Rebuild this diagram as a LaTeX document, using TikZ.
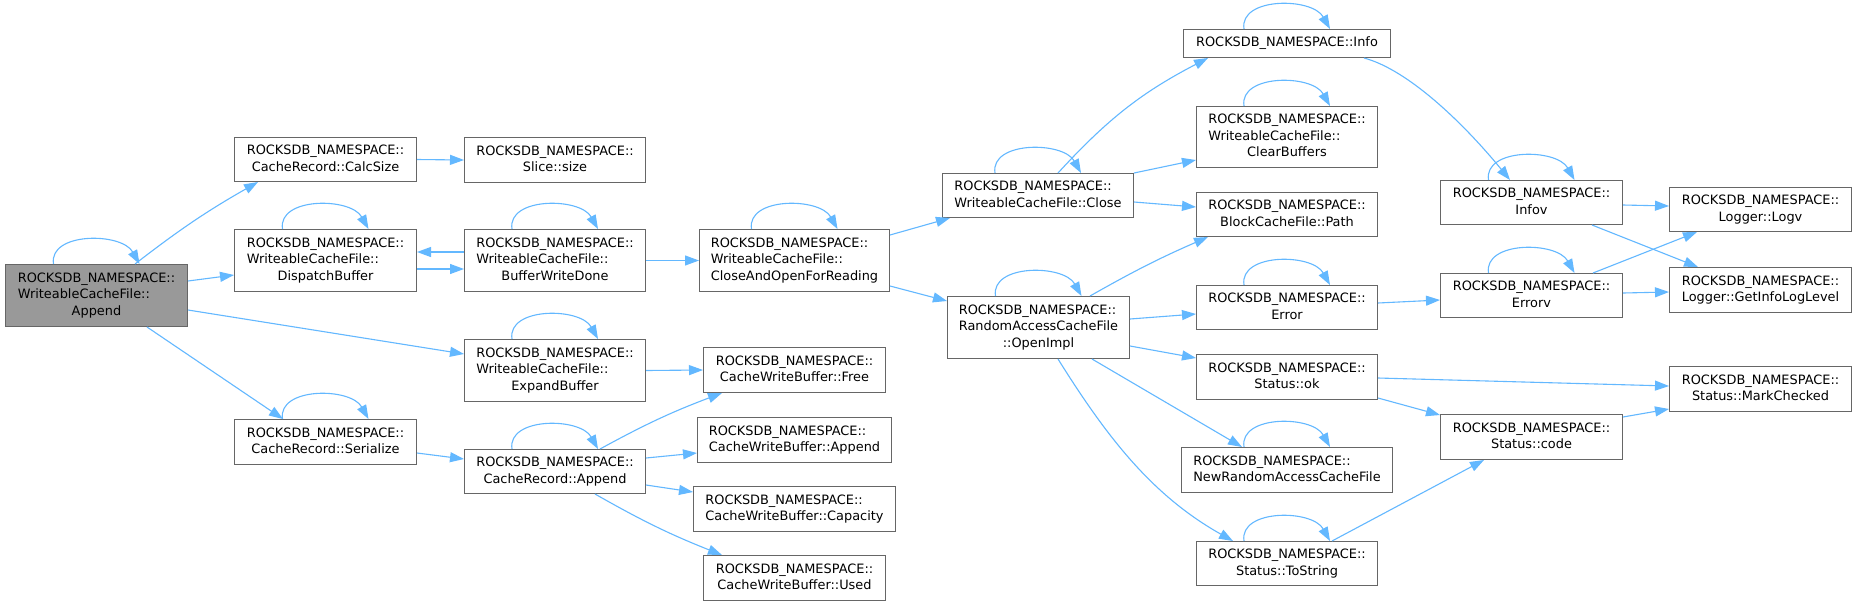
\documentclass[tikz,border=0pt]{standalone}
\usepackage{fontspec}
\setmainfont{DejaVu Sans}
\usetikzlibrary{arrows.meta,calc}
\definecolor{edgeblue}{HTML}{63B8FF}
\definecolor{boxborder}{HTML}{666666}
\definecolor{mainfill}{HTML}{999999}
\newcommand{\twoln}[2]{\begin{tabular}{@{}l@{}}#1\\\multicolumn{1}{@{}c@{}}{#2}\end{tabular}}
\newcommand{\rns}{ROCKSDB\_NAMESPACE::}
\newcommand{\selfloop}[1]{\draw[edge] ([xshift=-43pt]#1.north) .. controls +(-5,-32) and +(-18,-32) .. ([xshift=43pt]#1.north);}
\begin{document}
\begin{tikzpicture}[x=1pt,y=-1pt,
  nbox/.style={draw=boxborder, line width=1pt, fill=white, inner sep=0pt, anchor=north west,
     font=\fontsize{12.9}{16.5}\selectfont},
  edge/.style={draw=edgeblue, line width=1.1pt, -{Triangle[length=14pt,width=10pt]}}]
\fill[white] (0,0) rectangle (1856,606);
\useasboundingbox (0,0) rectangle (1856,606);

% column 1
\node[nbox, fill=mainfill, minimum width=182pt, minimum height=62pt] (append) at (5,264) {\twoln{\rns\\WriteableCacheFile::}{Append}};
% column 2
\node[nbox, minimum width=182pt, minimum height=44pt] (calcsize) at (234,137) {\twoln{\rns}{CacheRecord::CalcSize}};
\node[nbox, minimum width=182pt, minimum height=62pt] (dispatch) at (234,229) {\twoln{\rns\\WriteableCacheFile::}{DispatchBuffer}};
\node[nbox, minimum width=182pt, minimum height=45pt] (serialize) at (234,419) {\twoln{\rns}{CacheRecord::Serialize}};
% column 3
\node[nbox, minimum width=181pt, minimum height=45pt] (slicesize) at (464,137) {\twoln{\rns}{Slice::size}};
\node[nbox, minimum width=181pt, minimum height=62pt] (bwdone) at (464,229) {\twoln{\rns\\WriteableCacheFile::}{BufferWriteDone}};
\node[nbox, minimum width=181pt, minimum height=62pt] (expand) at (464,339) {\twoln{\rns\\WriteableCacheFile::}{ExpandBuffer}};
\node[nbox, minimum width=181pt, minimum height=44pt] (crappend) at (464,449) {\twoln{\rns}{CacheRecord::Append}};
% column 4
\node[nbox, minimum width=190pt, minimum height=62pt] (closeopen) at (699,229) {\twoln{\rns\\WriteableCacheFile::}{CloseAndOpenForReading}};
\node[nbox, minimum width=182pt, minimum height=45pt] (free) at (703,347) {\twoln{\rns}{CacheWriteBuffer::Free}};
\node[nbox, minimum width=194pt, minimum height=45pt] (cwbappend) at (697,417) {\twoln{\rns}{CacheWriteBuffer::Append}};
\node[nbox, minimum width=202pt, minimum height=45pt] (capacity) at (693,486) {\twoln{\rns}{CacheWriteBuffer::Capacity}};
\node[nbox, minimum width=182pt, minimum height=45pt] (used) at (703,555) {\twoln{\rns}{CacheWriteBuffer::Used}};
% column 5
\node[nbox, minimum width=191pt, minimum height=44pt] (close) at (942,173) {\twoln{\rns}{WriteableCacheFile::Close}};
\node[nbox, minimum width=182pt, minimum height=62pt] (openimpl) at (947,296) {\twoln{\rns\\RandomAccessCacheFile}{::OpenImpl}};
% column 6
\node[nbox, minimum width=207pt, minimum height=28pt] (info) at (1183,29) {\rns Info};
\node[nbox, minimum width=181pt, minimum height=61pt] (clearbuf) at (1196,106) {\twoln{\rns\\WriteableCacheFile::}{ClearBuffers}};
\node[nbox, minimum width=181pt, minimum height=44pt] (path) at (1196,192) {\twoln{\rns}{BlockCacheFile::Path}};
\node[nbox, minimum width=181pt, minimum height=44pt] (error) at (1196,285) {\twoln{\rns}{Error}};
\node[nbox, minimum width=181pt, minimum height=45pt] (ok) at (1196,354) {\twoln{\rns}{Status::ok}};
\node[nbox, minimum width=211pt, minimum height=45pt] (newrac) at (1181,447) {\twoln{\rns}{NewRandomAccessCacheFile}};
\node[nbox, minimum width=181pt, minimum height=44pt] (tostring) at (1196,541) {\twoln{\rns}{Status::ToString}};
% column 7
\node[nbox, minimum width=182pt, minimum height=44pt] (infov) at (1440,180) {\twoln{\rns}{Infov}};
\node[nbox, minimum width=182pt, minimum height=44pt] (errorv) at (1440,273) {\twoln{\rns}{Errorv}};
\node[nbox, minimum width=182pt, minimum height=45pt] (code) at (1440,414) {\twoln{\rns}{Status::code}};
% column 8
\node[nbox, minimum width=182pt, minimum height=44pt] (logv) at (1669,187) {\twoln{\rns}{Logger::Logv}};
\node[nbox, minimum width=182pt, minimum height=45pt] (getinfo) at (1669,267) {\twoln{\rns}{Logger::GetInfoLogLevel}};
\node[nbox, minimum width=182pt, minimum height=45pt] (markchecked) at (1669,366) {\twoln{\rns}{Status::MarkChecked}};

% self loops
\foreach \n in {append,dispatch,bwdone,closeopen,expand,serialize,crappend,close,openimpl,info,clearbuf,error,newrac,tostring,infov,errorv}{\selfloop{\n}}

% edges
\draw[edge] ([shift={(130,0)}]append.north west) to[bend left=4] ([shift={(24,0)}]calcsize.south west);
\draw[edge] ([shift={(0,17)}]append.north east) -- ([shift={(0,46)}]dispatch.north west);
\draw[edge] ([shift={(0,46)}]append.north east) -- ([shift={(0,15)}]expand.north west);
\draw[edge] ([shift={(142,0)}]append.south west) -- ([shift={(49,0)}]serialize.north west);
\draw[edge] (calcsize.east) -- (slicesize.west);
\draw[edge] ([shift={(0,23)}]bwdone.north west) -- ([shift={(0,23)}]dispatch.north east);
\draw[edge] ([shift={(0,40)}]dispatch.north east) -- ([shift={(0,40)}]bwdone.north west);
\draw[edge] (bwdone.east) -- (closeopen.west);
\draw[edge] ([shift={(0,6)}]closeopen.north east) -- ([shift={(8,0)}]close.south west);
\draw[edge] ([shift={(0,57)}]closeopen.north east) -- ([shift={(0,5)}]openimpl.north west);
\draw[edge] (expand.east) -- (free.west);
\draw[edge] ([shift={(0,34)}]serialize.north east) -- ([shift={(0,10)}]crappend.north west);
\draw[edge] ([shift={(136,0)}]crappend.north west) to[bend left=4] ([shift={(19,0)}]free.south west);
\draw[edge] ([shift={(0,9)}]crappend.north east) -- ([shift={(0,36)}]cwbappend.north west);
\draw[edge] ([shift={(0,36)}]crappend.north east) -- ([shift={(0,6)}]capacity.north west);
\draw[edge] ([shift={(131,0)}]crappend.south west) to[bend right=4] ([shift={(19,0)}]used.north west);
\draw[edge] ([shift={(116,0)}]close.north west) to[bend left=10] ([shift={(25,0)}]info.south west);
\draw[edge] (close.north east) -- ([shift={(0,54)}]clearbuf.north west);
\draw[edge] ([shift={(0,29)}]close.north east) -- ([shift={(0,15)}]path.north west);
\draw[edge] ([shift={(143,0)}]openimpl.north west) to[bend left=3] ([shift={(12,0)}]path.south west);
\draw[edge] ([shift={(0,23)}]openimpl.north east) -- ([shift={(0,29)}]error.north west);
\draw[edge] ([shift={(0,50)}]openimpl.north east) -- ([shift={(0,4)}]ok.north west);
\draw[edge] ([shift={(145,0)}]openimpl.south west) -- ([shift={(61,0)}]newrac.north west);
\draw[edge] ([shift={(111,0)}]openimpl.south west) .. controls +(50,80) and +(-80,-45) .. ([shift={(37,0)}]tostring.north west);
\draw[edge] ([shift={(-27,0)}]info.south east) .. controls +(45,12) and +(-45,-55) .. ([shift={(70,0)}]infov.north west);
\draw[edge] ([shift={(0,18)}]error.north east) -- ([shift={(0,27)}]errorv.north west);
\draw[edge] ([shift={(0,24)}]ok.north east) -- ([shift={(0,20)}]markchecked.north west);
\draw[edge] ([shift={(0,44)}]ok.north east) -- ([shift={(0,1)}]code.north west);
\draw[edge] ([shift={(136,0)}]tostring.north west) -- ([shift={(44,0)}]code.south west);
\draw[edge] ([shift={(0,25)}]infov.north east) -- ([shift={(0,19)}]logv.north west);
\draw[edge] ([shift={(152,0)}]infov.south west) -- ([shift={(29,0)}]getinfo.north west);
\draw[edge] ([shift={(153,0)}]errorv.north west) -- ([shift={(28,0)}]logv.south west);
\draw[edge] ([shift={(0,20)}]errorv.north east) -- ([shift={(0,25)}]getinfo.north west);
\draw[edge] ([shift={(0,3)}]code.north east) -- ([shift={(0,-3)}]markchecked.south west);
\end{tikzpicture}
\end{document}
